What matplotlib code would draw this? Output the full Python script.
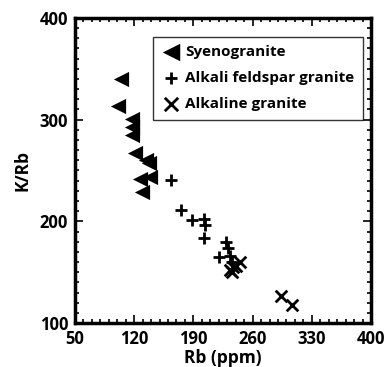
import matplotlib.pyplot as plt
from matplotlib.ticker import MultipleLocator

plt.rcParams['font.family'] = ['Open Sans', 'DejaVu Sans']
plt.rcParams['font.weight'] = 'bold'

# Syenogranite
sy_rb = [104, 101, 117, 117, 117, 121, 134, 137, 127, 139, 129]
sy_krb = [340, 313, 301, 293, 285, 267, 260, 257, 242, 244, 229]

# Alkali feldspar granite
af_rb = [164, 175, 188, 202, 204, 202, 229, 231, 220, 233, 236]
af_krb = [241, 211, 201, 202, 196, 184, 180, 174, 165, 166, 160]

# Alkaline granite
al_rb = [245, 237, 233, 240, 236, 293, 306]
al_krb = [160, 155, 152, 156, 150, 127, 118]

fig = plt.figure(figsize=(3.85, 3.67), dpi=100)
ax = fig.add_axes([75/385, 1 - 323/367, 296/385, 305/367])

ax.scatter(sy_rb, sy_krb, marker='<', s=120, color='black', linewidths=0,
           label='Syenogranite')
ax.scatter(af_rb, af_krb, marker='+', s=65, color='black', linewidths=2,
           label='Alkali feldspar granite')
ax.scatter(al_rb, al_krb, marker='x', s=70, color='black', linewidths=2,
           label='Alkaline granite')

ax.set_xlim(50, 400)
ax.set_ylim(100, 400)
ax.set_xticks([50, 120, 190, 260, 330, 400])
ax.set_yticks([100, 200, 300, 400])
ax.xaxis.set_minor_locator(MultipleLocator(10))
ax.yaxis.set_minor_locator(MultipleLocator(10))
ax.tick_params(which='both', direction='in', top=True, right=True,
               labelsize=12, width=1.2)
ax.tick_params(which='major', length=6, pad=5)
ax.tick_params(which='minor', length=3)
for s in ax.spines.values():
    s.set_linewidth(2.5)

ax.set_xlabel('Rb (ppm)', fontsize=12.5, fontweight='bold', labelpad=1)
ax.set_ylabel('K/Rb', fontsize=12.5, fontweight='bold', labelpad=6)

leg = ax.legend(loc='upper left', bbox_to_anchor=(0.262, 0.938), fontsize=11,
                frameon=True, fancybox=False, borderaxespad=0,
                handletextpad=0.3, labelspacing=0.78, borderpad=0.55,
                handlelength=1.3, markerscale=1.15)
leg.get_frame().set_edgecolor('black')
leg.get_frame().set_linewidth(1.0)

fig.savefig('out.png', dpi=100)
